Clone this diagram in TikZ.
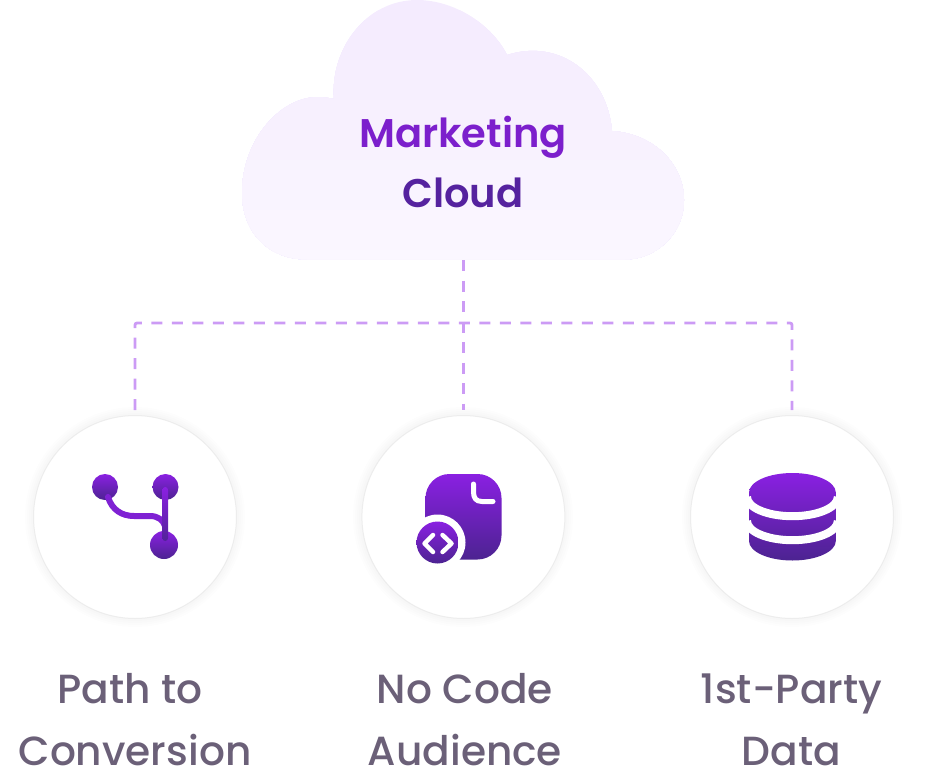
\documentclass[tikz,border=0pt]{standalone}
\usepackage{fontspec}
\setmainfont{Poppins}
\newfontfamily\semib[UprightFont=* SemiBold]{Poppins}
\newfontfamily\medi[UprightFont=* Medium]{Poppins}
\usetikzlibrary{calc}
\definecolor{topv}{HTML}{8A20E2}
\definecolor{botv}{HTML}{4C2391}
\definecolor{mkt}{HTML}{7C1FCC}
\definecolor{cld}{HTML}{55229F}
\definecolor{dashc}{HTML}{CC9BF5}
\definecolor{labelc}{HTML}{6B6078}
\definecolor{cloudt}{HTML}{F4EBFE}
\definecolor{cloudb}{HTML}{FBF7FF}
\tikzset{
  grad/.style={top color=topv,bottom color=botv,draw=none},
  conn/.style={draw=dashc,line width=2.8pt,dash pattern=on 11pt off 9.5pt},
  bubble/.style={circle,minimum size=203pt,inner sep=0pt,outer sep=5.5pt,fill=white,draw=black!7,line width=1pt},
  lab/.style={font=\medi\fontsize{40.7}{62}\selectfont,text=labelc,align=center,inner sep=0pt},
  title/.style={font=\semib\fontsize{40}{60}\selectfont,align=center,inner sep=0pt},
  whitel/.style={draw=white,line cap=round,line join=round},
}
\begin{document}
\begin{tikzpicture}[x=1pt,y=-1pt]
\useasboundingbox (0,0) rectangle (926,784);
% cloud: solid bands under a clip, which leaves no dark rim
\begin{scope}
\clip
  (307,259.5) .. controls (268,259.5) and (242,232) .. (242,193)
  .. controls (242,140) and (280,97) .. (318,97)
  .. controls (324,97) and (329,98) .. (334,99)
  .. controls (330,50) and (365,0) .. (417,0)
  .. controls (455,0) and (492,25) .. (507,55)
  .. controls (560,38) and (607,75) .. (612,131)
  .. controls (655,134) and (684,165) .. (684,200)
  .. controls (684,235) and (655,259.5) .. (625,259.5) -- cycle;
\foreach \i in {0,...,26}{
  \pgfmathsetmacro{\mixv}{100-\i*100/26}
  \fill[cloudt!\mixv!cloudb] (230,\i*10) rectangle (700,270);
}
\end{scope}
\coordinate (cloudfoot) at (463.4,260);
\coordinate (bus) at (463.4,323);
\node[title] (cloudtext) at (463,161.5) {\textcolor{mkt}{Marketing}\\\textcolor{cld}{Cloud}};
% soft shadows
\foreach \cx in {135,463,792}
  \foreach \r in {102,104,106,108,110}
    \fill[black,opacity=0.006] (\cx,517) circle[radius=\r];
\node[bubble] (b1) at (135,517) {};
\node[bubble] (b2) at (463.4,517) {};
\node[bubble] (b3) at (792,517) {};
% connectors
\draw[conn] (cloudfoot) -- (b2.north);
\draw[conn,rounded corners=2pt] (b1.north) |- (bus) -| (b3.north);
% icon 1
\shade[grad] (105,487) circle[radius=13];
\shade[grad] (165.5,487) circle[radius=13];
\shade[grad] (164,545) circle[radius=14];
\draw[line width=6pt,line cap=round,color=topv!82!botv]
  (108,497) .. controls (112,510) and (122,516) .. (134,516) -- (150,516) .. controls (158,516) and (163,520) .. (165,526);
\shade[top color=topv,bottom color=botv!90!topv,rounded corners=2.8pt] (162.5,487) rectangle (168,541);
% icon 2
\shade[grad,rounded corners=24pt] (425.5,474) rectangle (501.5,559.5);
\fill[white] (437.5,542.5) circle[radius=28];
\shade[grad] (437.5,542.5) circle[radius=21];
\draw[whitel,line width=5pt] (473.5,484) -- (473.5,492) .. controls (473.5,498) and (476,501.5) .. (482,501.5) -- (493,501.5);
\draw[whitel,line width=4.5pt] (433,535) -- (424.5,543.5) -- (433,552);
\draw[whitel,line width=4.5pt] (442.5,535) -- (451.5,543.5) -- (442.5,552);
% icon 3
\shade[grad] (749,492.5) arc[start angle=180,end angle=0,x radius=43.4,y radius=-19.5]
  -- (835.8,541) arc[start angle=0,end angle=-180,x radius=43.4,y radius=-19.5] -- cycle;
\draw[white,line width=8pt] (747,497) arc[start angle=180,end angle=360,x radius=45.4,y radius=-19.2];
\draw[white,line width=8pt] (747,521) arc[start angle=180,end angle=360,x radius=45.4,y radius=-19.2];
% labels
\node[lab] (l1) at (135,720) {Path to\hspace*{10pt}\\Conversion};
\node[lab] (l2) at (465,720) {No Code\\Audience};
\node[lab] (l3) at (791.5,720) {1st-Party\\Data};
\end{tikzpicture}
\end{document}
